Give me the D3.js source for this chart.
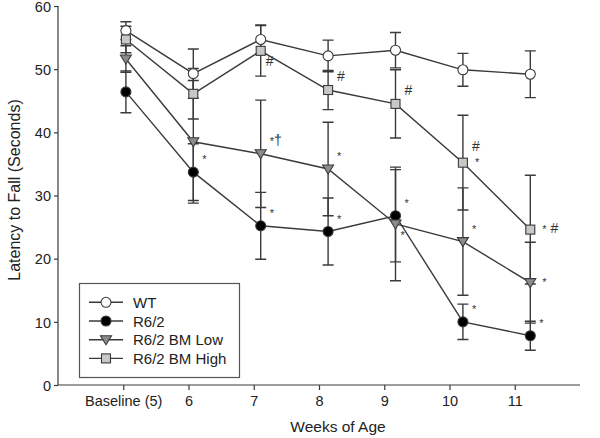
<!DOCTYPE html>
<html><head><meta charset="utf-8">
<script src="https://cdn.jsdelivr.net/npm/d3@7"></script>
<style>body{margin:0;background:#fff}svg{display:block}text{font-family:"Liberation Sans",Arial,sans-serif;fill:#222}</style>
</head><body><svg id="c" width="600" height="438"></svg>
<script>
const weekLabels = ["Baseline (5)","6","7","8","9","10","11"];
const seriesNames = ["WT","R6/2","R6/2 BM Low","R6/2 BM High"];
const wtMean   = [56.1,49.3,54.7,52.1,53.0,49.9,49.2];
const wtErr    = [1.4,3.9,2.3,2.5,2.8,2.6,3.7];
const r62Mean  = [46.4,33.7,25.2,24.3,26.8,10.0,7.8];
const r62Err   = [3.3,4.5,5.3,5.3,7.3,2.8,2.3];
const lowMean  = [51.6,38.5,36.6,34.2,25.5,22.7,16.2];
const lowErr   = [2.1,9.7,8.5,7.4,9.0,8.5,6.4];
const highMean = [54.7,46.1,52.9,46.7,44.5,35.2,24.6];
const highErr  = [2.1,4.0,4.0,3.1,5.4,7.5,8.6];
const yTicks = [0,10,20,30,40,50,60];
// annotations: series index, week index, label, placement
const notes = [
  [1,1,"*","ne"],
  [2,2,"*\u2020","ne"],[3,2,"#","se"],[1,2,"*","ne"],
  [3,3,"#","ne"],[2,3,"*","ne"],[1,3,"*","ne"],
  [3,4,"#","ne"],[1,4,"*","ne"],[2,4,"*","se"],
  [3,5,"#","ne2"],[3,5,"*","e"],[2,5,"*","ne"],[1,5,"*","ne"],
  [3,6,"*  #","e"],[2,6,"*","e"],[1,6,"*","ne"]
];

const series = [
  {name:seriesNames[0], mean:wtMean, err:wtErr, shape:"circle", fill:"#ffffff"},
  {name:seriesNames[1], mean:r62Mean, err:r62Err, shape:"circle", fill:"#000000"},
  {name:seriesNames[2], mean:lowMean, err:lowErr, shape:"tri", fill:"#8c8c8c"},
  {name:seriesNames[3], mean:highMean, err:highErr, shape:"square", fill:"#c8c8c8"}
];

const svg = d3.select("#c");
const stroke = "#3a3a3a";
const y = d3.scaleLinear().domain([0,60]).range([385,6]);
const xData = d3.scaleLinear().domain([0,6]).range([125.9,530.3]);
const xTick = d3.scaleLinear().domain([-1,7]).range([58,580]);

// axes
const yAxis = d3.axisLeft(y).tickValues(yTicks).tickSize(4).tickPadding(3);
const gy = svg.append("g").attr("transform","translate(58,0)").call(yAxis);
const xAxis = d3.axisBottom(xTick).tickValues(d3.range(0,7)).tickFormat(i=>weekLabels[i]).tickSize(5).tickPadding(6);
const gx = svg.append("g").attr("transform","translate(0,385)").call(xAxis);
[gy,gx].forEach(g=>{
  g.select(".domain").attr("stroke",stroke).attr("stroke-width",1.2);
  g.selectAll(".tick line").attr("stroke",stroke).attr("stroke-width",1.2);
  g.selectAll(".tick text").style("font-size","14.5px").attr("fill","#222");
});
gy.selectAll(".tick text").attr("dy","0.36em");
gy.select(".domain").attr("d","M0,6V385");
gx.select(".domain").attr("d","M58,0H580");

svg.append("text").attr("transform","translate(20,190) rotate(-90)").attr("text-anchor","middle")
  .style("font-size","16px").text("Latency to Fall (Seconds)");
svg.append("text").attr("x",338).attr("y",432).attr("text-anchor","middle")
  .style("font-size","15.5px").text("Weeks of Age");

function drawMarker(g, shape, fill, cx, cy){
  if(shape==="circle"){
    g.append("circle").attr("cx",cx).attr("cy",cy).attr("r",5).attr("fill",fill).attr("stroke",stroke).attr("stroke-width",1.1);
  } else if(shape==="square"){
    g.append("rect").attr("x",cx-4.5).attr("y",cy-4.5).attr("width",9).attr("height",9).attr("fill",fill).attr("stroke",stroke).attr("stroke-width",1.1);
  } else {
    g.append("path").attr("d",`M${cx-5.5},${cy-4}L${cx+5.5},${cy-4}L${cx},${cy+5}Z`).attr("fill",fill).attr("stroke",stroke).attr("stroke-width",1.1);
  }
}

const plot = svg.append("g");
const line = d3.line().x((d,i)=>xData(i)).y(d=>y(d));
series.forEach(s=>{
  plot.append("path").attr("d",line(s.mean)).attr("fill","none").attr("stroke",stroke).attr("stroke-width",1.4);
});
series.forEach(s=>{
  s.mean.forEach((m,i)=>{
    const cx = xData(i), y1 = y(m+s.err[i]), y2 = y(m-s.err[i]);
    plot.append("path").attr("d",`M${cx},${y1}V${y2}M${cx-5.5},${y1}H${cx+5.5}M${cx-5.5},${y2}H${cx+5.5}`)
      .attr("stroke",stroke).attr("stroke-width",1.4).attr("fill","none");
  });
});
series.forEach(s=>{
  s.mean.forEach((m,i)=>drawMarker(plot, s.shape, s.fill, xData(i), y(m)));
});

const off = {ne:[9,-9], se:[5,15], e:[12,3], ne2:[9,-12]};
notes.forEach(([si,wi,lab,pl])=>{
  const o = off[pl];
  const cy = y(series[si].mean[wi]);
  const t = svg.append("text").attr("x",xData(wi)+o[0]).attr("y",cy+o[1]).style("font-size","12px").style("fill","#333");
  lab.split("").forEach(ch=>{
    if(ch==="*") t.append("tspan").style("font-size","11px").style("fill","#333").text("*");
    else t.append("tspan").style("font-size","14px").style("fill","#333").text(ch);
  });
});

// legend
const lg = svg.append("g");
lg.append("rect").attr("x",79.5).attr("y",283.5).attr("width",160).attr("height",94).attr("fill","#fff").attr("stroke","#555").attr("stroke-width",1.2);
series.forEach((s,i)=>{
  const ly = 302.3 + i*18.7;
  lg.append("line").attr("x1",89).attr("x2",123).attr("y1",ly).attr("y2",ly).attr("stroke",stroke).attr("stroke-width",1.4);
  drawMarker(lg, s.shape, s.fill, 106, ly);
  lg.append("text").attr("x",133).attr("y",ly+5.5).style("font-size","15px").text(s.name);
});
</script></body></html>
